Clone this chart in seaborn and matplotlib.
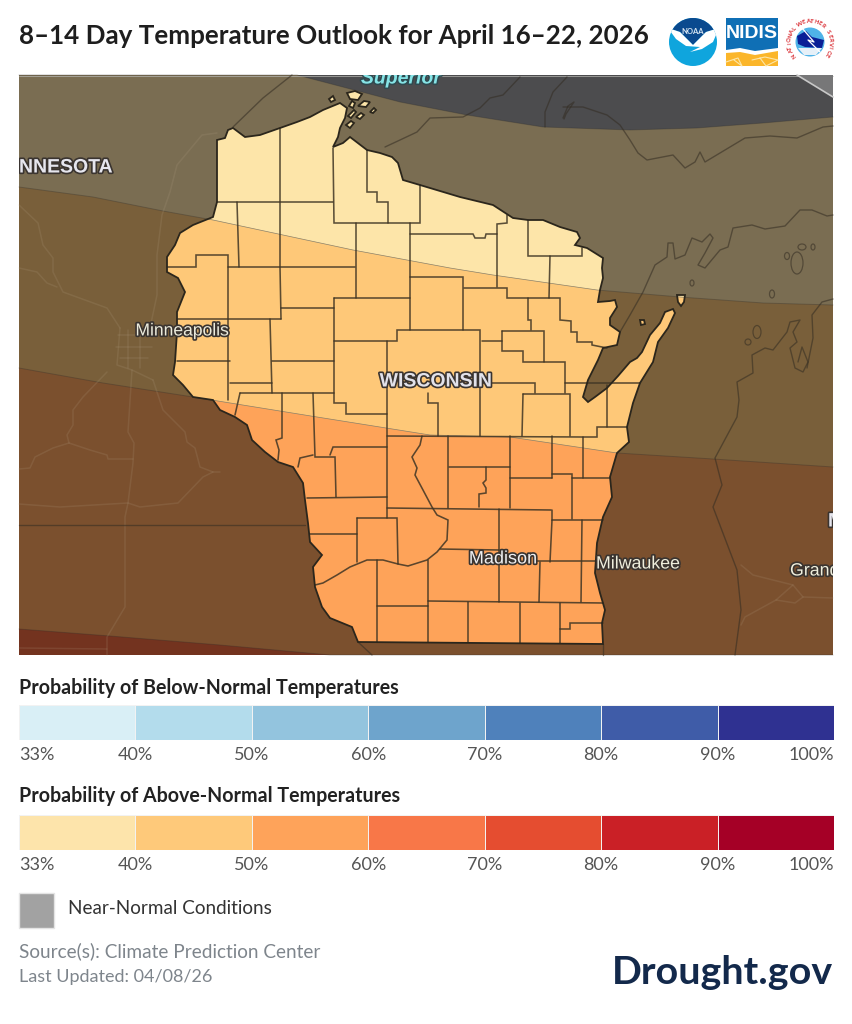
# Wisconsin 8-14 day temperature outlook, drawn in image pixel coordinates
import matplotlib
matplotlib.use('Agg')
import matplotlib.pyplot as plt
import matplotlib.patheffects as pe
from matplotlib.colors import ListedColormap
from matplotlib.patches import Circle, Ellipse, PathPatch, Polygon, Rectangle
from matplotlib.path import Path
import numpy as np
import seaborn as sns

# Legend data
PCT_LABELS = ['33%', '40%', '50%', '60%', '70%', '80%', '90%', '100%']
BELOW_COLORS = ['#d9eff6', '#b3dcec', '#93c4de', '#6ea4cc', '#4f81bb', '#3f5ca8', '#2f3191']
ABOVE_COLORS = ['#fde4ab', '#fec97a', '#fea35a', '#f87748', '#e54d30', '#ca2026', '#a50026']

# Outlook band edges across the map
BAND_1 = [(19, 75), (297, 75), (400, 102), (467, 115), (543, 127), (630, 130), (697, 128), (763, 123), (833, 117)]
BAND_2 = [(19, 187), (93, 197), (163, 211), (213, 220), (353, 250), (450, 268), (493, 275), (597, 290), (680, 297), (763, 303), (833, 305)]
BAND_3 = [(19, 368), (103, 383), (193, 397), (317, 417), (430, 435), (510, 437), (617, 453), (713, 459), (833, 467)]
BAND_4 = [(19, 629), (110, 636), (220, 645), (330, 655), (833, 655)]
OUTSIDE_COLORS = ['#4c4c4e', '#7a6d52', '#795f3a', '#7b502e', '#73331f']
STATE_COLORS = ['#fde5a9', '#fec878', '#fea359']

WI_OUTLINE = [
    (217, 140), (225, 138), (228, 130), (233, 128), (245, 137), (260, 135), (280, 128), (297, 122), (310, 117),
    (323, 110), (340, 103), (347, 108), (345, 118), (340, 128), (338, 137), (333, 147), (343, 143), (350, 137),
    (367, 150), (380, 153), (392, 157), (398, 163), (403, 180), (420, 185), (460, 197), (493, 205), (513, 218),
    (528, 220), (543, 220), (560, 227), (577, 232), (580, 238), (575, 245), (587, 248), (603, 258), (602, 268),
    (603, 278), (600, 290), (598, 302), (610, 301), (615, 300), (617, 307), (610, 318), (610, 325), (620, 332),
    (617, 345), (603, 348), (598, 360), (588, 380), (583, 397), (588, 402), (595, 397), (607, 388), (618, 376),
    (630, 362), (637, 358), (642, 352), (650, 335), (660, 323), (665, 312), (673, 309), (675, 313), (668, 328),
    (658, 342), (653, 362), (640, 383), (633, 403), (627, 427), (629, 442), (617, 453), (610, 477), (612, 497),
    (603, 517), (597, 543), (595, 573), (600, 593), (605, 610), (602, 623), (603, 644), (358, 642), (352, 627),
    (330, 618), (322, 607), (315, 587), (313, 567), (322, 555), (310, 542), (308, 523), (305, 500), (303, 483),
    (293, 467), (278, 462), (265, 452), (252, 440), (247, 425), (235, 417), (220, 410), (213, 400), (193, 397),
    (183, 385), (173, 375), (175, 362), (177, 332), (177, 312), (185, 292), (178, 278), (167, 272), (167, 257),
    (175, 245), (180, 233), (193, 225), (213, 217), (217, 202),
]
WI_ISLANDS = [
    [(347, 93), (355, 91), (362, 94), (358, 100), (350, 99)],
    [(358, 106), (364, 101), (370, 102), (366, 107)],
    [(329, 99), (333, 96), (335, 100), (331, 102)],
    [(349, 106), (352, 101), (355, 103), (353, 108)],
    [(370, 112), (374, 108), (376, 110), (373, 113)],
    [(356, 117), (361, 113), (364, 115), (360, 119)],
    [(346, 125), (351, 121), (354, 123), (350, 128)],
    [(348, 116), (354, 110), (356, 112), (351, 118)],
    [(677, 295), (685, 295), (684, 302), (681, 306), (678, 302)],
    [(640, 320), (644, 320), (645, 324), (641, 325)],
]

COUNTY_LINES = [
    [(280, 128), (280, 267), (281, 319)], [(217, 202), (333, 202)], [(237, 202), (239, 267)],
    [(333, 148), (334, 223), (420, 223), (420, 185)],
    [(367, 150), (367, 192), (377, 192), (377, 202), (388, 202), (388, 223)],
    [(356, 223), (356, 298)], [(410, 223), (410, 330)], [(410, 277), (463, 277), (463, 330)],
    [(410, 234), (473, 234), (475, 238), (485, 238), (486, 234), (497, 234)],
    [(507, 215), (507, 223), (497, 224), (497, 287)], [(528, 220), (528, 256), (582, 256), (582, 248)],
    [(550, 256), (549, 298)], [(167, 267), (196, 267), (196, 255), (228, 255), (228, 400)],
    [(228, 267), (355, 267)], [(177, 319), (281, 319)], [(281, 308), (334, 308)],
    [(334, 298), (410, 298)], [(334, 298), (334, 403), (346, 403), (346, 414), (387, 414)],
    [(270, 319), (272, 393)], [(334, 341), (397, 341), (397, 330), (480, 330), (480, 436)],
    [(387, 341), (387, 518)], [(177, 361), (230, 361)], [(272, 361), (334, 361)],
    [(464, 288), (507, 288), (507, 298), (560, 298), (560, 320), (571, 321), (571, 332), (577, 332), (577, 342), (592, 342), (592, 345), (607, 348)],
    [(528, 298), (528, 320), (531, 320), (531, 330)], [(482, 341), (502, 341)],
    [(502, 331), (544, 331), (544, 362)], [(502, 331), (502, 351), (523, 351), (523, 362), (565, 362), (565, 393)],
    [(230, 383), (272, 383)], [(240, 393), (334, 393)], [(240, 393), (235, 415)],
    [(282, 393), (282, 438), (276, 440), (279, 450), (278, 460)], [(313, 393), (315, 457), (335, 457), (336, 497)],
    [(313, 455), (300, 458), (298, 467)], [(330, 455), (333, 447), (387, 447)],
    [(307, 498), (387, 497)], [(310, 534), (357, 534)], [(357, 518), (397, 518), (398, 564)], [(357, 518), (357, 562)],
    [(315, 585), (323, 583), (337, 575), (350, 567), (367, 560), (383, 560), (398, 564), (408, 566), (427, 560), (437, 552), (447, 540), (448, 520), (437, 515), (432, 507), (423, 490), (415, 475), (417, 468), (412, 457), (420, 445), (422, 436)],
    [(387, 436), (582, 437), (597, 437), (597, 427), (627, 427)], [(387, 508), (551, 510)],
    [(377, 560), (377, 642)], [(377, 606), (428, 606)], [(428, 560), (428, 642)], [(428, 601), (603, 603)],
    [(428, 393), (428, 403), (438, 403), (438, 436)], [(448, 436), (448, 508)],
    [(482, 383), (535, 383), (535, 393)], [(523, 394), (570, 394), (570, 436)], [(523, 394), (522, 436)],
    [(565, 383), (640, 383)], [(607, 385), (607, 427)], [(449, 467), (510, 467)], [(510, 436), (510, 508)],
    [(486, 467), (486, 480), (483, 483), (486, 488), (486, 493), (479, 494), (479, 507)],
    [(510, 478), (552, 478)], [(552, 436), (552, 478)], [(552, 474), (572, 474), (572, 519)],
    [(572, 478), (610, 478)], [(583, 437), (583, 478)], [(552, 510), (552, 520), (603, 520)],
    [(582, 520), (581, 602)], [(552, 520), (550, 562)], [(499, 509), (499, 602)], [(440, 549), (499, 550)],
    [(537, 561), (595, 561)], [(540, 562), (539, 602)], [(468, 602), (468, 642)], [(520, 603), (520, 643)],
    [(560, 603), (560, 643)], [(560, 629), (570, 629), (570, 623), (603, 623)],
]

# Coasts and state lines outside Wisconsin
OUTSIDE_LINES = [
    [(19, 525), (305, 525)], [(603, 644), (603, 655)], [(358, 642), (372, 655)],
    [(292, 75), (263, 98), (233, 127)],
    [(385, 147), (400, 140), (417, 132), (430, 118), (463, 117), (480, 108), (490, 98), (503, 95), (520, 77)],
    [(567, 77), (553, 92), (545, 112), (545, 127)], [(563, 118), (568, 106), (574, 102), (566, 114), (564, 119)],
    [(563, 107), (583, 107), (607, 115), (620, 125), (630, 140), (638, 153), (647, 160), (673, 155), (685, 168), (695, 162), (700, 152), (705, 162), (745, 138), (770, 136), (797, 138), (823, 127), (833, 126)],
    [(620, 332), (630, 315), (643, 292), (655, 265), (667, 257), (668, 243), (673, 243), (675, 259), (685, 255), (692, 238), (702, 242), (710, 234), (713, 238), (705, 253), (698, 265), (705, 268), (720, 250), (728, 247), (733, 228), (752, 225), (765, 229), (785, 226), (800, 210), (812, 210), (827, 216), (833, 215)],
    [(833, 299), (822, 302), (812, 315), (813, 338), (807, 368)],
    [(735, 655), (741, 610), (737, 570), (713, 507), (722, 485), (715, 458), (737, 417), (739, 400), (737, 382), (753, 373), (752, 355), (765, 348), (773, 350), (787, 332), (790, 322), (800, 320), (793, 332), (797, 342), (790, 348), (795, 368), (803, 372), (808, 362), (802, 347), (798, 362)],
]
ROADS = [
    [(217, 133), (202, 135), (177, 165), (170, 192), (162, 215), (157, 255), (157, 295), (150, 328)],
    [(19, 205), (38, 223), (43, 245), (53, 258), (53, 272), (63, 292), (107, 308), (120, 328)],
    [(19, 268), (37, 272), (47, 283), (57, 287)],
    [(107, 372), (83, 397), (73, 410), (73, 425), (67, 435), (69, 443), (53, 448), (35, 457), (30, 468), (19, 469)],
    [(69, 443), (90, 450), (107, 455), (108, 459), (133, 459)],
    [(132, 370), (128, 432), (134, 443), (133, 463), (128, 503), (125, 517), (125, 607), (107, 637), (107, 655)],
    [(19, 504), (60, 507), (128, 503), (140, 507), (178, 503), (203, 477), (213, 472), (220, 472)],
    [(153, 380), (163, 410), (185, 432), (187, 442), (195, 448), (200, 467), (213, 472)],
    [(19, 648), (107, 649)], [(120, 328), (117, 365), (132, 370), (153, 380)],
    [(118, 335), (150, 335)], [(116, 347), (152, 347)], [(120, 358), (148, 358)], [(128, 330), (128, 368)], [(140, 330), (140, 368)],
    [(741, 565), (753, 575), (793, 585), (803, 597), (833, 598)], [(793, 585), (776, 600), (745, 617), (741, 625)],
    [(776, 600), (795, 603), (803, 597)],
]
# x, y, width, height
LAKE_ISLANDS = [(757, 332, 8, 13), (748, 342, 6, 6), (772, 294, 5, 8), (692, 283, 4, 6), (787, 256, 5, 7), (797, 263, 12, 22), (802, 247, 8, 6), (813, 247, 4, 6)]

# text, x, y, horizontal alignment, size, weight, colour
MAP_LABELS = [
    ('NNESOTA', 19, 168, 'left', 14, 'bold', '#e6e6ee'),
    ('Minneapolis', 182, 331, 'center', 12.6, 'normal', '#ecebdc'),
    ('WISCONSIN', 436, 382, 'center', 14, 'bold', '#e2e2ea'),
    ('Madison', 503, 559, 'center', 13, 'normal', '#efeff0'),
    ('Milwaukee', 638, 564, 'center', 12.8, 'normal', '#efeedc'),
    ('Grand', 790, 571, 'left', 12.8, 'normal', '#efeedc'),
    ('M', 828, 522, 'left', 14, 'bold', '#e6e6ee'),
]

sns.set_style('white')
plt.rcParams['font.family'] = ['Lato', 'DejaVu Sans']

W, H = 852, 1024
fig = plt.figure(figsize=(W / 100, H / 100), dpi=100, facecolor='white')
ax = fig.add_axes([0, 0, 1, 1])
ax.set_xlim(0, W)
ax.set_ylim(H, 0)
ax.axis('off')

MAP_L, MAP_R, MAP_T, MAP_B = 19, 833, 75, 655


def below(edge):
    return list(edge) + [(MAP_R, MAP_B), (MAP_L, MAP_B)]


# Map background
map_box = Rectangle((MAP_L, MAP_T), MAP_R - MAP_L, MAP_B - MAP_T, fc=OUTSIDE_COLORS[0], ec='none', zorder=1)
ax.add_patch(map_box)
for edge, col in zip([BAND_1, BAND_2, BAND_3, BAND_4], OUTSIDE_COLORS[1:]):
    ax.add_patch(Polygon(below(edge), closed=True, fc=col, ec='none', zorder=1.1))
    xs, ys = zip(*edge)
    ax.plot(xs, ys, color='#2a2a2a', lw=0.7, alpha=0.3, zorder=1.2)
ax.plot([MAP_L, MAP_R], [MAP_T + 0.5, MAP_T + 0.5], color='#b5b5b0', lw=0.5, zorder=1.2)
ax.add_patch(Polygon([(797, 75), (833, 75), (833, 97)], closed=True, fc='#777778', ec='none', zorder=1.2))
ax.plot([797, 833], [75, 97], color='#c8c8c8', lw=1.2, zorder=1.3)

for line in ROADS:
    xs, ys = zip(*line)
    ax.plot(xs, ys, color='#b8a58a', lw=1.1, alpha=0.16, zorder=1.4)
for line in OUTSIDE_LINES:
    xs, ys = zip(*line)
    ax.plot(xs, ys, color='#332c22', lw=1.0, alpha=0.55, zorder=1.5)
for x, y, w, h in LAKE_ISLANDS:
    ax.add_patch(Ellipse((x, y), w, h, fc='none', ec='#332c22', lw=0.9, alpha=0.55, zorder=1.5))

# Wisconsin, one clip shape with its islands
verts, codes = [], []
for ring in [WI_OUTLINE] + WI_ISLANDS:
    verts += ring + [ring[0]]
    codes += [Path.MOVETO] + [Path.LINETO] * (len(ring) - 1) + [Path.CLOSEPOLY]
wi_path = Path(verts, codes)
wi_clip = PathPatch(wi_path, fc=STATE_COLORS[0], ec='none', zorder=2)
ax.add_patch(wi_clip)
for edge, col in zip([BAND_2, BAND_3], STATE_COLORS[1:]):
    band = Polygon(below(edge), closed=True, fc=col, ec='#8a8068', lw=0.5, zorder=2.1)
    ax.add_patch(band)
    band.set_clip_path(wi_clip)

for line in COUNTY_LINES:
    xs, ys = zip(*line)
    ax.plot(xs, ys, color='#3f3524', lw=1.15, alpha=0.85, zorder=2.3, solid_joinstyle='miter')
ax.add_patch(PathPatch(wi_path, fc='none', ec='#2b261c', lw=1.3, zorder=2.4))

# Map labels
for text, x, y, ha, size, weight, col in MAP_LABELS:
    t = ax.text(x, y, text, ha=ha, va='center', fontsize=size, fontweight=weight, color=col, zorder=3,
                family=['Liberation Sans', 'DejaVu Sans'], clip_on=True)
    t.set_clip_path(map_box)
    t.set_path_effects([pe.withStroke(linewidth=2.4, foreground='#3a3430')])
sup = ax.text(401, 79, 'Superior', ha='center', va='center', fontsize=14, fontstyle='italic', fontweight='bold',
              color='#86e4e6', zorder=3, family=['Liberation Sans', 'DejaVu Sans'], clip_on=True)
sup.set_clip_path(map_box)
sup.set_path_effects([pe.withStroke(linewidth=2.2, foreground='#2e4a50')])

# Title and footer text
ax.text(19, 35.5, '8–14 Day Temperature Outlook for April 16–22, 2026', ha='left', va='center',
        fontsize=18.7, fontweight='bold', color='#1e1e1e')
ax.text(19, 687.5, 'Probability of Below-Normal Temperatures', ha='left', va='center', fontsize=14.1, fontweight='bold', color='#222222')
ax.text(19, 796.5, 'Probability of Above-Normal Temperatures', ha='left', va='center', fontsize=14.1, fontweight='bold', color='#222222')
ax.add_patch(Rectangle((19, 893), 35, 35, fc='#a2a2a2', ec='#e4e4e4', lw=1))
ax.text(68, 908, 'Near-Normal Conditions', ha='left', va='center', fontsize=13.6, color='#333333')
ax.text(19, 951, 'Source(s): Climate Prediction Center', ha='left', va='center', fontsize=13.7, color='#7e858c')
ax.text(19, 977, 'Last Updated: 04/08/26', ha='left', va='center', fontsize=13, color='#7e858c')
ax.text(833, 973, 'Drought.gov', ha='right', va='center', fontsize=28.4, fontweight='bold', color='#13294b')


# Legend colour bars
def legend_bar(colors, top, bottom):
    bar_ax = fig.add_axes([MAP_L / W, 1 - bottom / H, (834 - MAP_L) / W, (bottom - top) / H])
    bins = [list(range(len(colors)))]
    sns.heatmap(bins, cmap=ListedColormap(colors), cbar=False, linewidths=0.5, linecolor='#f2f2f2',
                xticklabels=False, yticklabels=False, ax=bar_ax)
    bar_ax.set_xticks(range(len(PCT_LABELS)))
    labels = bar_ax.set_xticklabels(PCT_LABELS, fontsize=13, color='#555555', rotation=0)
    labels[0].set_ha('left')
    labels[-1].set_ha('right')
    bar_ax.tick_params(axis='x', length=0, pad=5)


legend_bar(BELOW_COLORS, 705, 740)
legend_bar(ABOVE_COLORS, 815, 850)

# NOAA logo
noaa = Circle((693, 42), 24, fc='#0fa5dd', ec='none', zorder=4)
ax.add_patch(noaa)
swoosh = Polygon([(668, 28), (680, 32), (693, 45), (706, 32), (719, 28), (713, 42), (702, 49), (690, 52), (700, 47), (686, 46), (676, 39)],
                 closed=True, fc='white', ec='none', zorder=4.2)
ax.add_patch(swoosh)
swoosh.set_clip_path(noaa)
dome = Polygon([(668, 28), (675, 14), (693, 12), (712, 14), (719, 28), (706, 32), (693, 45), (680, 32)],
               closed=True, fc='#0a4a8f', ec='none', zorder=4.1)
ax.add_patch(dome)
dome.set_clip_path(noaa)
ax.text(693, 31.5, 'NOAA', ha='center', va='center', fontsize=5.5, fontweight='bold', color='#d8e6f2', zorder=4.3)

# NIDIS logo
ax.add_patch(Rectangle((726, 18), 52, 48, fc='#0f6fb5', ec='none', zorder=4))
ax.add_patch(Polygon([(726, 50), (740, 48), (755, 51), (778, 48), (778, 66), (726, 66)], closed=True, fc='white', ec='none', zorder=4.1))
ax.add_patch(Polygon([(726, 53), (740, 52), (755, 55), (778, 51), (778, 66), (726, 66)], closed=True, fc='#fbb62a', ec='none', zorder=4.2))
ax.plot([726, 738, 742, 734], [62, 58, 66, 60], color='#fde6a8', lw=0.8, zorder=4.3)
ax.plot([752, 765, 778, 766, 760], [60, 57, 60, 66, 58], color='#fde6a8', lw=0.8, zorder=4.3)
ax.text(752, 34, 'NIDIS', ha='center', va='center', fontsize=14, fontweight='bold', color='white', zorder=4.3,
        family=['Liberation Sans', 'DejaVu Sans'])

# NWS logo
nws_x, nws_y = 810, 42
ax.add_patch(Circle((nws_x, nws_y), 24, fc='white', ec='none', zorder=4))
nws_text = 'NATIONAL WEATHER SERVICE'
for ch, ang in zip(nws_text, np.linspace(218, -38, len(nws_text))):
    rad = np.deg2rad(ang)
    ax.text(nws_x + 20.5 * np.cos(rad), nws_y - 20.5 * np.sin(rad), ch, ha='center', va='center', fontsize=4.2,
            fontweight='bold', color='#d8262c', rotation=ang - 90, zorder=4.2)
inner = Circle((nws_x, nws_y), 14.5, fc='#4fb3e8', ec='none', zorder=4.1)
ax.add_patch(inner)
blue = Polygon([(797, 36), (806, 31), (812, 37), (824, 40), (822, 48), (805, 47), (798, 44)], closed=True, fc='#0a1f96', ec='none', zorder=4.2)
ax.add_patch(blue)
blue.set_clip_path(inner)
ax.plot([802, 814, 808, 820], [28, 42, 40, 52], color='white', lw=0.9, zorder=4.3)
ax.add_patch(Polygon([(798, 48), (822, 48), (816, 55), (804, 55)], closed=True, fc='#e6f0f8', ec='none', zorder=4.15))

plt.savefig('out.png', dpi=100, facecolor='white')
